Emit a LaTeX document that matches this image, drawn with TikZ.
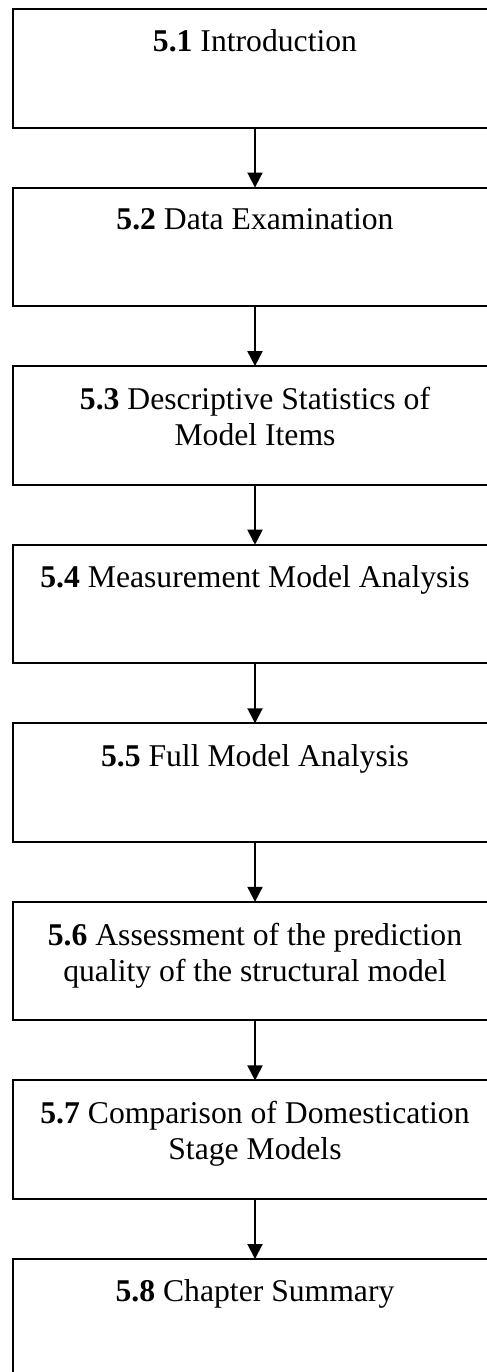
\documentclass[tikz,border=0pt]{standalone}
\usepackage{fontspec}
\setmainfont{Liberation Serif}
\usetikzlibrary{arrows.meta,calc,positioning}

\begin{document}
\begin{tikzpicture}[x=0.42pt,y=-0.42pt,font=\fontsize{13.3}{15.1}\selectfont,node distance=25.2pt,every node/.style={align=center},
    stage/.style={draw,line width=0.8pt,minimum width=203.3pt,minimum height=49.8pt,inner sep=0pt,outer sep=0pt},
    flow/.style={-{Triangle[width=6.3pt,length=6.3pt]},line width=0.8pt}]
    \useasboundingbox (0,0) rectangle (487,1372);
    \clip (0,0) rectangle (487,1372);
    \node[stage,anchor=north] at (255,9) (s1) {};
    \node[stage,below=of s1] (s2) {};
    \node[stage,below=of s2] (s3) {};
    \node[stage,below=of s3] (s4) {};
    \node[stage,below=of s4] (s5) {};
    \node[stage,below=of s5] (s6) {};
    \node[stage,below=of s6] (s7) {};
    \node[stage,below=of s7] (s8) {};
    \node[anchor=north,inner sep=0pt] at ($(s1.north)+(0,20.5)$) (t1) {\textbf{5.1} Introduction};
    \node[anchor=north,inner sep=0pt] at ($(s2.north)+(0,20.5)$) (t2) {\textbf{5.2} Data Examination};
    \node[anchor=north,inner sep=0pt] at ($(s3.north)+(0,20.5)$) (t3) {\textbf{5.3} Descriptive Statistics of\\Model Items};
    \node[anchor=north,inner sep=0pt] at ($(s4.north)+(0,20.5)$) (t4) {\textbf{5.4} Measurement Model Analysis};
    \node[anchor=north,inner sep=0pt] at ($(s5.north)+(0,20.5)$) (t5) {\textbf{5.5} Full Model Analysis};
    \node[anchor=north,inner sep=0pt] at ($(s6.north)+(0,20.5)$) (t6) {\textbf{5.6} Assessment of the prediction\\quality of the structural model};
    \node[anchor=north,inner sep=0pt] at ($(s7.north)+(0,20.5)$) (t7) {\textbf{5.7} Comparison of Domestication\\Stage Models};
    \node[anchor=north,inner sep=0pt] at ($(s8.north)+(0,20.5)$) (t8) {\textbf{5.8} Chapter Summary};
    \draw[flow] (s1) -- (s2);
    \draw[flow] (s2) -- (s3);
    \draw[flow] (s3) -- (s4);
    \draw[flow] (s4) -- (s5);
    \draw[flow] (s5) -- (s6);
    \draw[flow] (s6) -- (s7);
    \draw[flow] (s7) -- (s8);
  \end{tikzpicture}
\end{document}
